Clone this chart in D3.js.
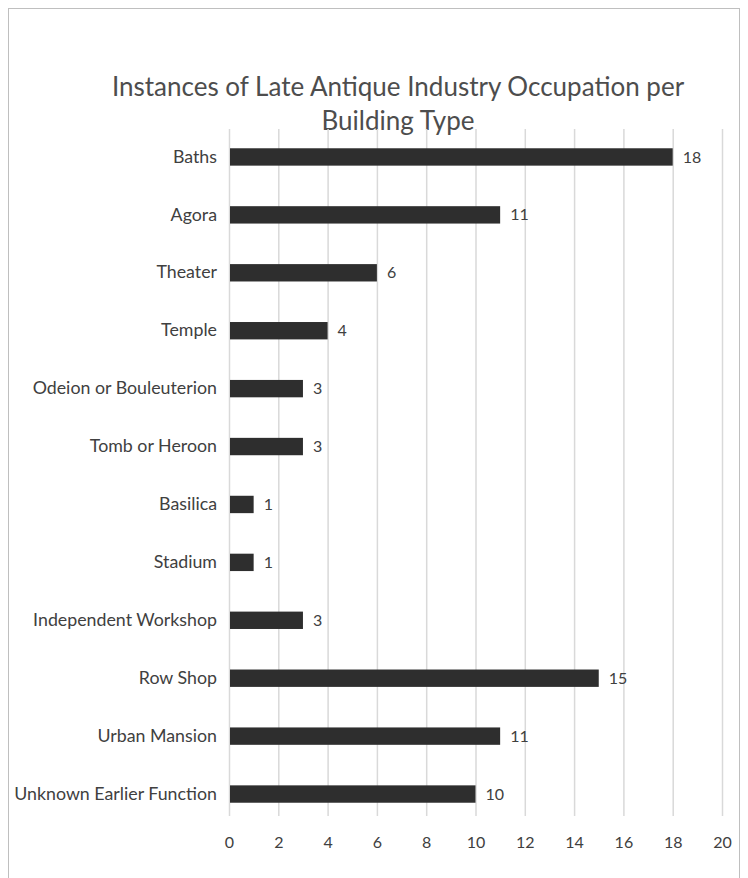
<!DOCTYPE html>
<html>
<head>
<meta charset="utf-8">
<script src="https://cdn.jsdelivr.net/npm/d3@7"></script>
<style>
  html, body { margin: 0; padding: 0; background: #fff; }
  svg { display: block; }
  text { font-family: Lato, "Open Sans", sans-serif; fill: #404040; }
</style>
</head>
<body>
<svg id="chart" width="748" height="878"></svg>
<script>
const categories = [
  "Baths", "Agora", "Theater", "Temple", "Odeion or Bouleuterion",
  "Tomb or Heroon", "Basilica", "Stadium", "Independent Workshop",
  "Row Shop", "Urban Mansion", "Unknown Earlier Function"
];
const counts = [18, 11, 6, 4, 3, 3, 1, 1, 3, 15, 11, 10];
const xTicks = [0, 2, 4, 6, 8, 10, 12, 14, 16, 18, 20];
const titleLines = ["Instances of Late Antique Industry Occupation per", "Building Type"];

const svg = d3.select("#chart");
const W = 748, H = 878;
const FONT = "Lato, 'Open Sans', sans-serif";

// outer frame
svg.append("rect")
  .attr("x", 8.5).attr("y", 8.5)
  .attr("width", 731).attr("height", H)
  .attr("fill", "none").attr("stroke", "#bfbfbf").attr("stroke-width", 1);

const plot = { left: 229, right: 722, top: 129, bottom: 816 };

const x = d3.scaleLinear().domain([0, 20]).range([plot.left, plot.right]);
const y = d3.scaleBand().domain(categories)
  .range([128, 823]).paddingInner(0.7).paddingOuter(0.35);

// title
svg.append("g").selectAll("text").data(titleLines).join("text")
  .attr("x", 398).attr("y", (d, i) => 96 + i * 34)
  .attr("text-anchor", "middle")
  .attr("font-size", 26)
  .style("fill", "#4d4d4d")
  .text(d => d);

// vertical gridlines
svg.append("g").selectAll("line").data(xTicks).join("line")
  .attr("x1", d => x(d) + 0.5).attr("x2", d => x(d) + 0.5)
  .attr("y1", plot.top).attr("y2", plot.bottom)
  .attr("stroke", "#d9d9d9").attr("stroke-width", 1.5);

// x tick labels
const xAxis = d3.axisBottom(x).tickValues(xTicks).tickSize(0).tickPadding(0);
const gx = svg.append("g").attr("transform", `translate(0,${plot.bottom + 21})`).call(xAxis);
gx.select(".domain").remove();
gx.selectAll("text").attr("font-size", 16).attr("font-family", FONT).style("fill", "#404040");

// category labels
const yAxis = d3.axisLeft(y).tickSize(0).tickPadding(12);
const gy = svg.append("g").attr("transform", `translate(${plot.left},0)`).call(yAxis);
gy.select(".domain").remove();
gy.selectAll("text").attr("font-size", 17.8).attr("font-family", FONT).style("fill", "#404040");

// bars
svg.append("g").selectAll("rect").data(categories).join("rect")
  .attr("x", x(0) + 1)
  .attr("y", d => y(d))
  .attr("width", (d, i) => x(counts[i]) - x(0) - 1)
  .attr("height", y.bandwidth())
  .attr("fill", "#2e2e2e");

// value labels
svg.append("g").selectAll("text").data(categories).join("text")
  .attr("x", (d, i) => x(counts[i]) + 10)
  .attr("y", d => y(d) + y.bandwidth() / 2)
  .attr("dy", "0.35em")
  .attr("font-size", 16)
  .text((d, i) => counts[i]);
</script>
</body>
</html>
